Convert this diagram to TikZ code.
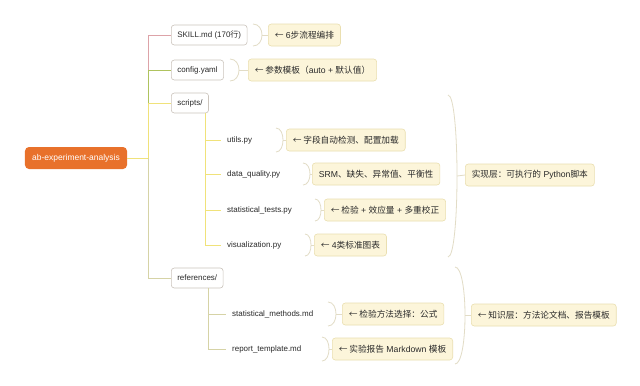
\documentclass[tikz,border=0pt]{standalone}
\usepackage{fontspec}
\setmainfont{Liberation Sans}
\newfontfamily\cjk{Noto Sans CJK SC}
\newcommand\zh[1]{{\cjk #1}}
% brace: x0, ytop, ybottom, xmax
\newcommand\brc[4]{\draw[braceline] (#1,#2) .. controls ({#1+(#4-#1)*4/3},#2) and ({#1+(#4-#1)*4/3},#3) .. (#1,#3);}
\definecolor{orangeroot}{HTML}{E8712B}
\definecolor{boxborder}{HTML}{CBC4BC}
\definecolor{calloutfill}{HTML}{FCF5DA}
\definecolor{calloutborder}{HTML}{EADFB0}
\definecolor{bracecol}{HTML}{E2DCC6}
\definecolor{pinkc}{HTML}{DDA3A8}
\definecolor{greenc}{HTML}{AFC35E}
\definecolor{yellowc}{HTML}{F0E27A}
\definecolor{tanc}{HTML}{D6D3A6}
\definecolor{txt}{HTML}{2A2A2A}
\begin{document}
\begin{tikzpicture}[x=1bp,y=-1bp,
  rootbox/.style={fill=orangeroot,rounded corners=4bp,text=white,font=\fontsize{8.5}{10}\selectfont,minimum width=102bp,minimum height=22bp,inner sep=2bp},
  filebox/.style={draw=boxborder,fill=white,rounded corners=3bp,line width=0.6bp,anchor=west,minimum height=20bp,inner xsep=6bp,inner ysep=2bp,text=txt,font=\fontsize{8}{10}\selectfont},
  leaf/.style={anchor=west,inner xsep=6bp,inner ysep=2bp,text=txt,font=\fontsize{8}{10}\selectfont},
  callout/.style={draw=calloutborder,fill=calloutfill,rounded corners=3bp,line width=0.6bp,anchor=west,minimum height=22bp,inner xsep=6.5bp,inner ysep=2bp,text=txt,font=\fontsize{8.7}{10}\selectfont},
  braceline/.style={draw=bracecol,line width=0.8bp},
  conn/.style={line width=1bp},
]
\useasboundingbox (0,0) rectangle (640,385);
\fill[white] (0,0) rectangle (640,385);

% root
\node[rootbox] (root) at (76,158) {ab-experiment-analysis};
\coordinate (hub) at (148,158);

% first level
\node[filebox] (skill) at (171,35) {SKILL.md (170\zh{行})};
\node[filebox] (config) at (171,70) {config.yaml};
\node[filebox] (scripts) at (171,103) {scripts/};
\node[filebox] (refs) at (171,278) {references/};

\draw[conn,draw=yellowc] (root.east) -- (hub);
\draw[conn,draw=pinkc] (hub) |- (skill.west);
\draw[conn,draw=greenc] (hub) |- (config.west);
\draw[conn,draw=yellowc] (hub) |- (scripts.west);
\draw[conn,draw=tanc] (hub) |- (refs.west);

% scripts children
\coordinate (s0) at (205,113);
\node[leaf] (utils) at (221,140) {utils.py};
\node[leaf] (dq) at (221,174) {data\_quality.py};
\node[leaf] (st) at (221,210) {statistical\_tests.py};
\node[leaf] (vis) at (221,245) {visualization.py};
\foreach \n in {utils,dq,st,vis} \draw[conn,draw=yellowc] (s0) |- (\n.west);

% references children
\coordinate (r0) at (208,288);
\node[leaf] (sm) at (226,314) {statistical\_methods.md};
\node[leaf] (rt) at (226,349) {report\_template.md};
\foreach \n in {sm,rt} \draw[conn,draw=tanc] (r0) |- (\n.west);

% callouts
\node[callout] (c1) at (268,35) {\zh{←} 6\zh{步流程编排}};
\brc{253}{24}{46}{262}
\coordinate (b1) at (262,35);
\draw[braceline] (b1) -- (c1.west);

\node[callout] (c2) at (248,70) {\zh{← 参数模板（}auto + \zh{默认值）}};
\brc{230}{59}{81}{239}
\coordinate (b2) at (239,70);
\draw[braceline] (b2) -- (c2.west);

\node[callout] (c3) at (286,140) {\zh{← 字段自动检测、配置加载}};
\brc{276}{128}{152}{283}
\coordinate (b3) at (283,140);
\draw[braceline] (b3) -- (c3.west);

\node[callout] (c4) at (312,174) {SRM\zh{、缺失、异常值、平衡性}};
\brc{303}{163}{185}{310}
\coordinate (b4) at (310,174);
\draw[braceline] (b4) -- (c4.west);

\node[callout] (c5) at (324,210) {\zh{← 检验} + \zh{效应量} + \zh{多重校正}};
\brc{315}{199}{221}{321}
\coordinate (b5) at (321,210);
\draw[braceline] (b5) -- (c5.west);

\node[callout] (c6) at (314,245) {\zh{←} 4\zh{类标准图表}};
\brc{305}{234}{256}{311}
\coordinate (b6) at (311,245);
\draw[braceline] (b6) -- (c6.west);

\node[callout] (c7) at (342,314) {\zh{← 检验方法选择：公式}};
\brc{328}{302}{326}{336}
\coordinate (b7) at (336,314);
\draw[braceline] (b7) -- (c7.west);

\node[callout] (c8) at (332,349) {\zh{← 实验报告} Markdown \zh{模板}};
\brc{322}{337}{361}{329}
\coordinate (b8) at (329,349);
\draw[braceline] (b8) -- (c8.west);

% group callouts
\node[callout] (g1) at (465,175) {\zh{实现层：可执行的} Python\zh{脚本}};
\brc{448}{95}{257}{457}
\coordinate (bg1) at (457,176);
\draw[braceline] (bg1) -- (g1.west);

\node[callout] (g2) at (471,315) {\zh{← 知识层：方法论文档、报告模板}};
\brc{455}{267}{364}{465}
\coordinate (bg2) at (465,315);
\draw[braceline] (bg2) -- (g2.west);
\end{tikzpicture}
\end{document}
